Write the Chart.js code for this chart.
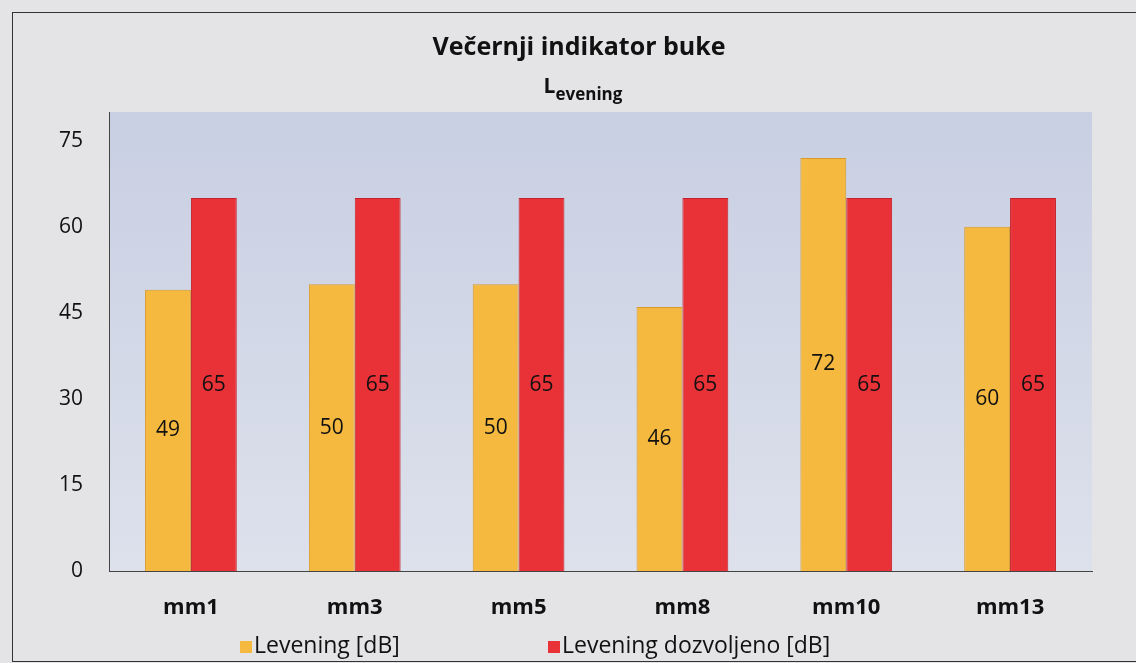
<!DOCTYPE html>
<html>
<head>
<meta charset="utf-8">
<script src="https://cdn.jsdelivr.net/npm/chart.js@4/dist/chart.umd.min.js"></script>
<style>
  html, body { margin: 0; padding: 0; background: #e4e4e6; }
  #wrap { width: 1136px; height: 663px; }
</style>
</head>
<body>
<div id="wrap"><canvas id="myChart" width="1136" height="663"></canvas></div>
<script>
// chart data
var categories = ['mm1', 'mm3', 'mm5', 'mm8', 'mm10', 'mm13'];
var leveningData = [49, 50, 50, 46, 72, 60];
var dozvoljenoData = [65, 65, 65, 65, 65, 65];
var yTickValues = [0, 15, 30, 45, 60, 75];
var seriesNames = ['Levening [dB]', 'Levening dozvoljeno [dB]'];
var titleText = 'Večernji indikator buke';

var FONT = "'Open Sans', sans-serif";
Chart.defaults.font.family = FONT;
Chart.defaults.color = '#111';

// background, plot area and outer border
var paperPlugin = {
    id: 'paper',
    beforeDraw: function (chart) {
        var ctx = chart.ctx, a = chart.chartArea;
        ctx.save();
        ctx.fillStyle = '#e4e4e6';
        ctx.fillRect(0, 0, chart.width, chart.height);
        var g = ctx.createLinearGradient(0, a.top, 0, a.bottom);
        g.addColorStop(0, '#c8cfe2');
        g.addColorStop(1, '#dde1ec');
        ctx.fillStyle = g;
        ctx.fillRect(a.left, a.top, a.right - a.left, a.bottom - a.top);
        ctx.strokeStyle = '#333';
        ctx.lineWidth = 1;
        ctx.strokeRect(12.5, 12.5, chart.width + 10, chart.height - 14);
        ctx.restore();
    }
};

// values in the middle of each bar
var valueLabels = {
    id: 'valueLabels',
    afterDatasetsDraw: function (chart) {
        var ctx = chart.ctx;
        ctx.save();
        ctx.font = '21px ' + FONT;
        ctx.fillStyle = '#111';
        ctx.textAlign = 'center';
        ctx.textBaseline = 'middle';
        chart.data.datasets.forEach(function (ds, i) {
            chart.getDatasetMeta(i).data.forEach(function (bar, j) {
                ctx.fillText(ds.data[j], bar.x, (bar.y + bar.base) / 2);
            });
        });
        ctx.restore();
    }
};

// title, subtitle with subscript, legend at the bottom
var extras = {
    id: 'extras',
    afterDraw: function (chart) {
        var ctx = chart.ctx;
        ctx.save();
        ctx.fillStyle = '#111';
        ctx.textBaseline = 'alphabetic';
        ctx.textAlign = 'center';
        ctx.font = 'bold 25px ' + FONT;
        ctx.fillText(titleText, 579, 55);

        ctx.textAlign = 'left';
        ctx.font = 'bold 21px ' + FONT;
        var wL = ctx.measureText('L').width;
        ctx.font = 'bold 17px ' + FONT;
        var wE = ctx.measureText('evening').width;
        var x0 = 583 - (wL + wE) / 2;
        ctx.font = 'bold 21px ' + FONT;
        ctx.fillText('L', x0, 93);
        ctx.font = 'bold 17px ' + FONT;
        ctx.fillText('evening', x0 + wL, 100);

        // legend
        var itemX = [240, 548];
        ctx.font = '23px ' + FONT;
        ctx.textBaseline = 'middle';
        chart.data.datasets.forEach(function (ds, i) {
            var x = itemX[i];
            ctx.fillStyle = ds.backgroundColor;
            ctx.fillRect(x, 641, 12, 12);
            ctx.fillStyle = '#111';
            ctx.fillText(ds.label, x + 14, 646);
        });
        ctx.restore();
    }
};

var ctx = document.getElementById('myChart').getContext('2d');
var myChart = new Chart(ctx, {
    type: 'bar',
    data: {
        labels: categories,
        datasets: [
            {
                label: seriesNames[0],
                data: leveningData,
                backgroundColor: '#f4b93e',
                borderColor: '#d99a2a',
                borderWidth: 1
            },
            {
                label: seriesNames[1],
                data: dozvoljenoData,
                backgroundColor: '#e83237',
                borderColor: '#c4222a',
                borderWidth: 1
            }
        ]
    },
    options: {
        responsive: false,
        animation: false,
        layout: {
            padding: { left: 12, right: 44, top: 112, bottom: 42 }
        },
        categoryPercentage: 0.56,
        barPercentage: 1.0,
        plugins: {
            legend: { display: false },
            tooltip: { enabled: false },
            title: { display: false }
        },
        scales: {
            x: {
                grid: { display: false },
                border: { display: true, color: '#444', width: 1 },
                ticks: { font: { size: 22, weight: 'bold' }, color: '#111', padding: 16 },
                afterFit: function (s) { s.height = 50; }
            },
            y: {
                min: 0,
                max: 80,
                grid: { display: false },
                border: { display: true, color: '#444', width: 1 },
                ticks: { font: { size: 21 }, color: '#111', padding: 18 },
                afterBuildTicks: function (s) {
                    s.ticks = yTickValues.map(function (v) { return { value: v }; });
                },
                afterFit: function (s) { s.width = 97; }
            }
        }
    },
    plugins: [paperPlugin, valueLabels, extras]
});
</script>
</body>
</html>
